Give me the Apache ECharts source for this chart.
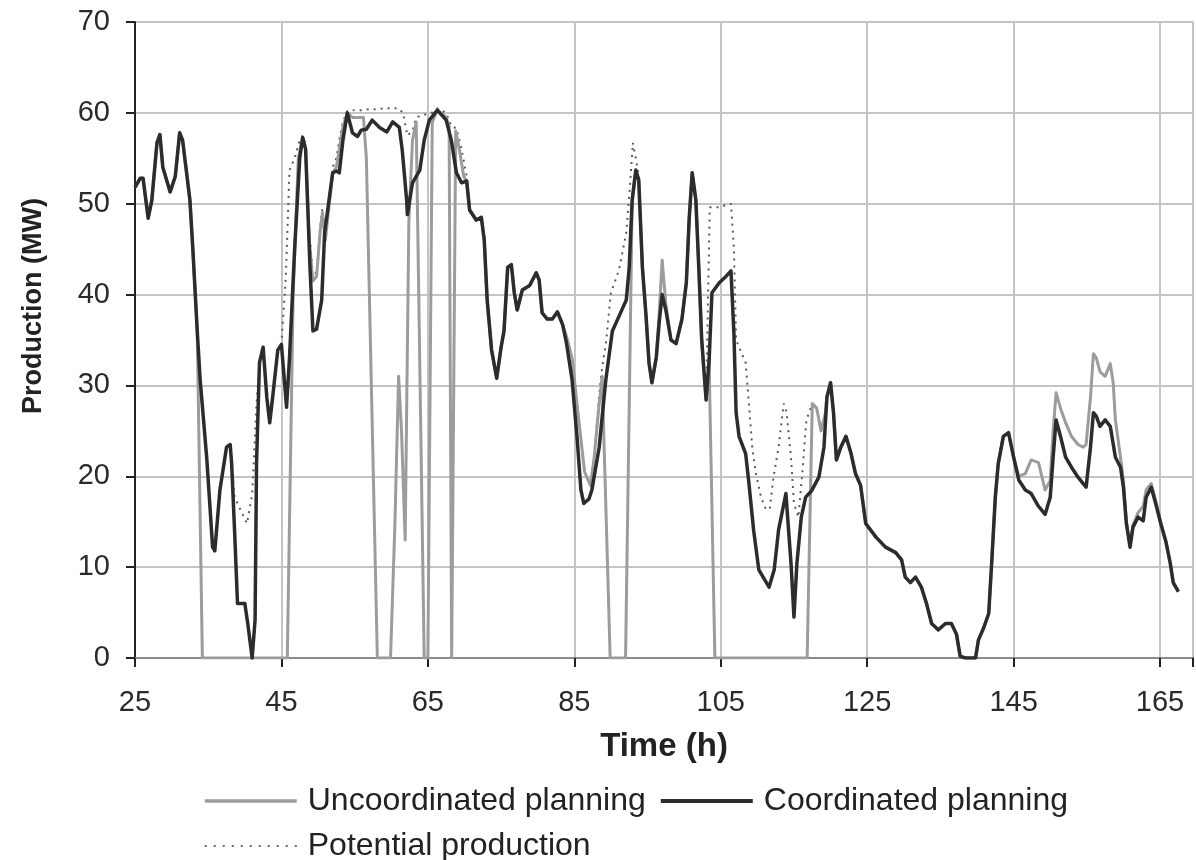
<!DOCTYPE html>
<html><head><meta charset="utf-8">
<script src="https://cdn.jsdelivr.net/npm/echarts@6/dist/echarts.min.js"></script>
<style>html,body{margin:0;padding:0;background:#fff}#c{width:1196px;height:860px}</style>
</head><body><div id="c"></div>
<script>
// ---- data (time in hours, production in MW) ----
const xTickLabels = [25, 45, 65, 85, 105, 125, 145, 165];
const yTickLabels = [0, 10, 20, 30, 40, 50, 60, 70];

const coordT = [25.0,25.7,26.1,26.8,27.3,28.0,28.4,28.8,29.8,30.5,31.1,31.5,32.5,32.9,33.5,33.9,34.8,35.6,35.9,36.6,37.5,38.0,38.2,38.6,39.0,40.0,40.4,41.0,41.4,41.6,42.0,42.5,43.0,43.4,43.8,44.5,45.0,45.7,46.1,46.8,47.5,47.9,48.3,48.9,49.3,49.8,50.5,50.9,52.0,52.5,52.9,53.4,54.0,54.7,55.4,55.9,56.6,57.4,58.4,59.4,60.2,61.1,61.5,62.1,62.2,62.9,63.9,64.5,65.2,66.3,67.5,68.2,68.9,69.6,70.3,70.7,71.6,72.3,72.7,73.1,73.7,74.4,75.0,75.4,75.9,76.4,76.8,77.2,77.9,78.9,79.8,80.2,80.6,81.3,82.0,82.7,83.4,83.9,84.7,85.4,85.9,86.3,87.0,87.4,88.4,89.3,90.2,91.1,92.1,92.5,92.9,93.4,93.8,94.3,94.8,95.2,95.6,96.2,96.6,97.0,97.5,98.2,98.9,99.7,100.3,100.7,101.1,101.6,102.0,102.4,103.0,103.4,103.8,104.8,105.7,106.4,106.8,107.1,107.5,108.4,108.8,109.5,110.2,111.6,112.3,112.9,113.9,114.6,115.0,115.4,116.0,116.6,117.4,118.4,119.1,119.5,120.0,120.4,120.8,121.4,122.1,122.8,123.4,124.1,124.8,126.2,127.5,128.9,129.7,130.2,130.9,131.6,132.4,133.1,133.8,134.7,135.7,136.5,137.2,137.7,138.4,139.8,140.2,140.9,141.6,142.0,142.5,142.9,143.6,144.3,145.0,145.7,146.6,147.4,148.4,149.3,150.0,150.4,150.8,151.4,152.1,152.9,153.8,154.5,154.9,155.5,155.9,156.3,156.8,157.5,158.2,158.9,159.6,160.0,160.4,160.9,161.3,162.0,162.7,163.1,163.8,164.5,165.1,165.8,166.4,166.8,167.5];
const coordV = [51.8,52.8,52.8,48.4,50.4,56.7,57.6,54,51.3,53,57.8,57,50.4,45,36,30.6,22,12.2,11.8,18.5,23.2,23.5,21.4,14,6,6,3.8,0,4.2,21.4,32.5,34.2,28.7,25.9,28.7,33.9,34.5,27.6,33,45,55,57.3,56,43,36,36.2,39.4,46.8,53.4,53.6,53.4,57,60,57.8,57.4,58.1,58.2,59.2,58.4,57.9,59,58.4,55.9,50.4,48.8,52.3,53.7,57,59.2,60.3,59.2,57,53.4,52.3,52.5,49.3,48.2,48.5,46,39.4,33.9,30.8,34.2,36,43,43.3,40.2,38.3,40.5,41,42.4,41.6,38,37.3,37.3,38.1,36.7,34.8,30.6,24,18.5,17,17.5,18.5,23.2,30.6,36,37.6,39.4,43,50.4,53.7,52.6,43,37.6,32.5,30.3,33.1,37,40,38.3,35,34.6,37.3,41.3,48.5,53.4,50.4,43,35,28.4,32.5,40.2,41.3,42,42.6,35.7,27,24.4,22.5,19.6,14,9.7,7.8,9.7,14.1,18.1,10.4,4.5,10.4,15.5,17.7,18.4,19.9,23.2,28.7,30.3,27,21.8,23.2,24.4,22.5,20.3,19,14.8,13.3,12.2,11.6,10.8,8.9,8.3,8.9,7.8,6,3.8,3.1,3.8,3.8,2.6,0.2,0,0,2,3.3,4.9,10.4,17.7,21.4,24.4,24.8,22.1,19.6,18.5,18.1,16.7,15.8,17.7,22.1,26.2,24.4,22.1,21,19.9,19.2,18.8,23.2,27,26.6,25.5,26.2,25.5,22.1,21,18.8,14.8,12.2,14.4,15.5,15.1,17.7,18.8,16.7,14.8,12.8,10.4,8.3,7.3];

const uncoordT = [25.0,25.7,26.1,26.8,27.3,28.0,28.4,28.8,29.8,30.5,31.1,31.5,32.5,32.9,33.5,34.2,45.8,46.6,47.3,47.9,48.3,48.8,49.3,49.8,50.3,50.6,51.0,52.0,52.5,52.9,53.4,54.0,54.7,55.4,56.2,56.6,58.1,59.9,60.5,61.0,61.4,61.9,62.4,62.9,63.4,64.5,65.0,65.6,66.3,67.5,67.9,68.25,68.45,68.8,69.3,69.9,70.3,70.7,71.6,72.3,72.7,73.1,73.7,74.4,75.0,75.4,75.9,76.4,76.8,77.2,77.9,78.9,79.8,80.2,80.6,81.3,82.0,82.7,83.4,83.9,84.7,85.5,86.4,87.2,87.7,88.4,88.8,89.9,92.0,92.9,93.4,93.8,94.3,94.8,95.2,95.6,96.2,96.6,97.0,97.5,98.2,98.9,99.7,100.3,100.7,101.1,101.6,102.0,102.4,103.0,103.4,104.2,116.8,117.5,118.1,118.7,119.3,119.5,120.0,120.4,120.8,121.4,122.1,122.8,123.4,124.1,124.8,126.2,127.5,128.9,129.7,130.2,130.9,131.6,132.4,133.1,133.8,134.7,135.7,136.5,137.2,137.7,138.4,139.8,140.2,140.9,141.6,142.0,142.5,142.9,143.6,144.3,145.0,145.7,146.6,147.4,148.4,149.3,150.0,150.4,150.8,151.4,152.1,152.9,153.8,154.5,154.9,155.5,155.9,156.3,156.8,157.5,158.2,158.6,158.9,159.6,160.0,160.4,160.9,161.3,162.0,162.7,163.1,163.8,164.5,165.1,165.8,166.4,166.8,167.5];
const uncoordV = [51.8,52.8,52.8,48.4,50.4,56.7,57.6,54,51.3,53,57.8,57,50.4,45,36,0,0,40,55,57.3,56,46,41.5,42,47,49,46,53.4,54,56,58.5,60,59.5,59.5,59.5,55,0,0,14.8,31,25,13,48,57,59,0,0,59,60.3,59.5,58.5,0,0,58,56,53,52.5,49.3,48.2,48.5,46,39.4,33.9,30.8,34.2,36,43,43.3,40.2,38.3,40.5,41,42.4,41.6,38,37.3,37.3,38.1,36.7,35.5,33,27,20.5,19,22,28,31,0,0,50,53.7,52.6,43,37.6,32.5,30.3,33.1,38,43.8,39,35,34.6,37.3,41.3,48.5,53.4,50.4,43,35,28.4,33,0,0,28,27.5,25,27,28.7,30.3,27,21.8,23.2,24.4,22.5,20.3,19,14.8,13.3,12.2,11.6,10.8,8.9,8.3,8.9,7.8,6,3.8,3.1,3.8,3.8,2.6,0.2,0,0,2,3.3,4.9,10.4,17.7,21.4,24.4,24.8,22.1,20,20.3,21.8,21.5,18.5,19.5,25,29.2,27.5,25.9,24.4,23.5,23.2,23.5,28.7,33.5,33,31.5,31,32.4,30.3,26.2,22.1,19.5,15,12.5,14.6,16,16.7,18.5,19.2,17,14.8,12.8,10.4,8.3,7.3];

const potentialT = [25.0,25.7,26.1,26.8,27.3,28.0,28.4,28.8,29.8,30.5,31.1,31.5,32.5,32.9,33.5,33.9,34.8,35.6,35.9,36.6,37.5,38.0,38.2,38.6,39.3,40.3,41.0,41.6,42.0,42.5,43.0,43.4,43.8,44.5,45.0,45.2,45.6,46.1,46.8,47.5,47.9,48.3,48.8,49.3,49.8,50.3,50.6,51.0,52.0,52.5,52.9,53.4,54.0,55.0,56.0,57.0,58.0,59.0,60.0,61.0,61.6,62.2,62.9,63.4,64.5,65.5,66.3,67.5,68.2,68.9,69.6,70.3,70.7,71.6,72.3,72.7,73.1,73.7,74.4,75.0,75.4,75.9,76.4,76.8,77.2,77.9,78.9,79.8,80.2,80.6,81.3,82.0,82.7,83.4,83.9,84.7,85.5,86.4,87.2,87.7,88.4,88.8,89.3,90.0,91.1,92.1,92.6,93.0,93.4,93.8,94.3,94.8,95.2,95.6,96.2,96.6,97.0,97.5,98.2,98.9,99.7,100.3,100.7,101.1,101.6,102.0,102.4,103.0,103.5,104.8,105.5,106.4,106.8,107.1,108.4,108.8,109.3,109.8,110.5,111.2,111.7,112.2,112.9,113.6,114.0,114.6,115.0,115.6,116.1,116.7,117.5,118.1,118.7,119.3,119.5,120.0,120.4,120.8,121.4,122.1,122.8,123.4,124.1,124.8,126.2,127.5,128.9,129.7,130.2,130.9,131.6,132.4,133.1,133.8,134.7,135.7,136.5,137.2,137.7,138.4,139.8,140.2,140.9,141.6,142.0,142.5,142.9,143.6,144.3,145.0,145.7,146.6,147.4,148.4,149.3,150.0,150.4,150.8,151.4,152.1,152.9,153.8,154.5,154.9,155.5,155.9,156.3,156.8,157.5,158.2,158.6,158.9,159.6,160.0,160.4,160.9,161.3,162.0,162.7,163.1,163.8,164.5,165.1,165.8,166.4,166.8,167.5];
const potentialV = [51.8,52.8,52.8,48.4,50.4,56.7,57.6,54,51.3,53,57.8,57,50.4,45,36,30.6,22,12.5,12,18.5,23.2,23.5,21.4,17.7,16.5,14.8,18,28,32.5,34.2,28.7,25.9,28.7,33.9,34.5,34.5,42,53.7,55,57,57.5,56.5,47,42,42.5,47.5,49.5,47,54,55,57,59,60.2,60.3,60.3,60.4,60.4,60.5,60.5,60.5,60,57.5,58,59.5,59.8,60,60.5,60,58.5,58.3,56,53,49.5,48.2,48.5,46,39.4,33.9,30.8,34.2,36,43,43.3,40.2,38.3,40.5,41,42.4,41.6,38,37.3,37.3,38.1,36.7,35.5,33,27,20.5,19,22,29,32,34.5,40.2,42.7,46.8,52,56.7,55,53,43.5,37.6,32.5,30.3,33.1,38,43.8,39,35,34.6,37.3,41.3,48.5,53.4,50.4,43,35,28.4,49.6,49.6,49.8,50,45,35,32.5,28.5,23.2,20.3,17.7,16.3,16.5,19.9,23.2,28,27,22,17,15.5,20,26.2,28,27.5,25,27,28.7,30.3,27,21.8,23.2,24.4,22.5,20.3,19,14.8,13.3,12.2,11.6,10.8,8.9,8.3,8.9,7.8,6,3.8,3.1,3.8,3.8,2.6,0.2,0,0,2,3.3,4.9,10.4,17.7,21.4,24.4,24.8,22.1,20,20.3,21.8,21.5,18.5,19.5,25,29.2,27.5,25.9,24.4,23.5,23.2,23.5,28.7,33.5,33,31.5,31,32.4,30.3,26.2,22.1,19.5,15,12.5,14.6,16,16.7,18.5,19.2,17,14.8,12.8,10.4,8.3,7.3];

// ---- chart ----
const pairs = (ts, vs) => ts.map((t, i) => [t, vs[i]]);
const FONT = "'Liberation Sans', Arial, sans-serif";
const chart = echarts.init(document.getElementById('c'), null, {renderer: 'canvas'});
chart.setOption({
  animation: false,
  backgroundColor: '#ffffff',
  grid: {left: 135, right: 1, top: 22, bottom: 202},
  legend: {
    left: 203, top: 785, width: 880, padding: 0,
    itemWidth: 92, itemHeight: 2, itemGap: 13,
    itemStyle: {opacity: 0},
    data: [
      {name: 'Uncoordinated planning', lineStyle: {width: 3.5, color: '#9c9c9c'}},
      {name: 'Coordinated planning', lineStyle: {width: 4, color: '#2c2c2c'}},
      {name: 'Potential production', lineStyle: {width: 2, color: '#6a6a6a', type: [2, 7]}}
    ],
    textStyle: {fontFamily: FONT, fontSize: 32, color: '#222', padding: [0, 0, 0, 6]}
  },
  xAxis: [{
    type: 'value', min: xTickLabels[0], max: 169.5, interval: 20,
    name: 'Time (h)', nameLocation: 'middle', nameGap: 72,
    nameTextStyle: {fontFamily: FONT, fontSize: 33, fontWeight: 'bold', color: '#222'},
    axisLine: {show: true, onZero: false, lineStyle: {color: '#222', width: 2}},
    axisTick: {show: true, length: 9, lineStyle: {color: '#222', width: 2}},
    axisLabel: {fontFamily: FONT, fontSize: 29, color: '#2a2a2a', margin: 30,
      formatter: v => (xTickLabels.indexOf(v) >= 0 ? String(v) : '')},
    splitLine: {show: true, lineStyle: {color: '#c4c4c4', width: 2}}
  }, {
    type: 'value', position: 'top', min: xTickLabels[0], max: 169.5,
    axisLine: {show: true, lineStyle: {color: '#8a8a8a', width: 2}},
    axisTick: {show: false}, axisLabel: {show: false}, splitLine: {show: false}
  }],
  yAxis: {
    type: 'value', min: yTickLabels[0], max: yTickLabels[yTickLabels.length - 1], interval: 10,
    name: 'Production (MW)', nameLocation: 'middle', nameGap: 88,
    nameTextStyle: {fontFamily: FONT, fontSize: 27, fontWeight: 'bold', color: '#222', padding: [0, 0, 0, 68]},
    axisLine: {show: true, lineStyle: {color: '#222', width: 2}},
    axisTick: {show: true, length: 9, lineStyle: {color: '#222', width: 2}},
    axisLabel: {fontFamily: FONT, fontSize: 29, color: '#2a2a2a', margin: 25},
    splitLine: {show: true, lineStyle: {color: '#c4c4c4', width: 2}}
  },
  series: [{
    name: 'Potential production', type: 'line', symbol: 'none', smooth: false,
    data: pairs(potentialT, potentialV),
    lineStyle: {color: '#5a5a5a', width: 2, type: [2, 5]},
    itemStyle: {color: '#5a5a5a'}, z: 2
  }, {
    name: 'Uncoordinated planning', type: 'line', symbol: 'none', smooth: false,
    data: pairs(uncoordT, uncoordV),
    lineStyle: {color: '#9c9c9c', width: 3, join: 'round'},
    itemStyle: {color: '#9c9c9c'}, z: 3
  }, {
    name: 'Coordinated planning', type: 'line', symbol: 'none', smooth: false,
    data: pairs(coordT, coordV),
    lineStyle: {color: '#2c2c2c', width: 3.5, join: 'round'},
    itemStyle: {color: '#2c2c2c'}, z: 4
  }]
});
</script>
</body></html>
